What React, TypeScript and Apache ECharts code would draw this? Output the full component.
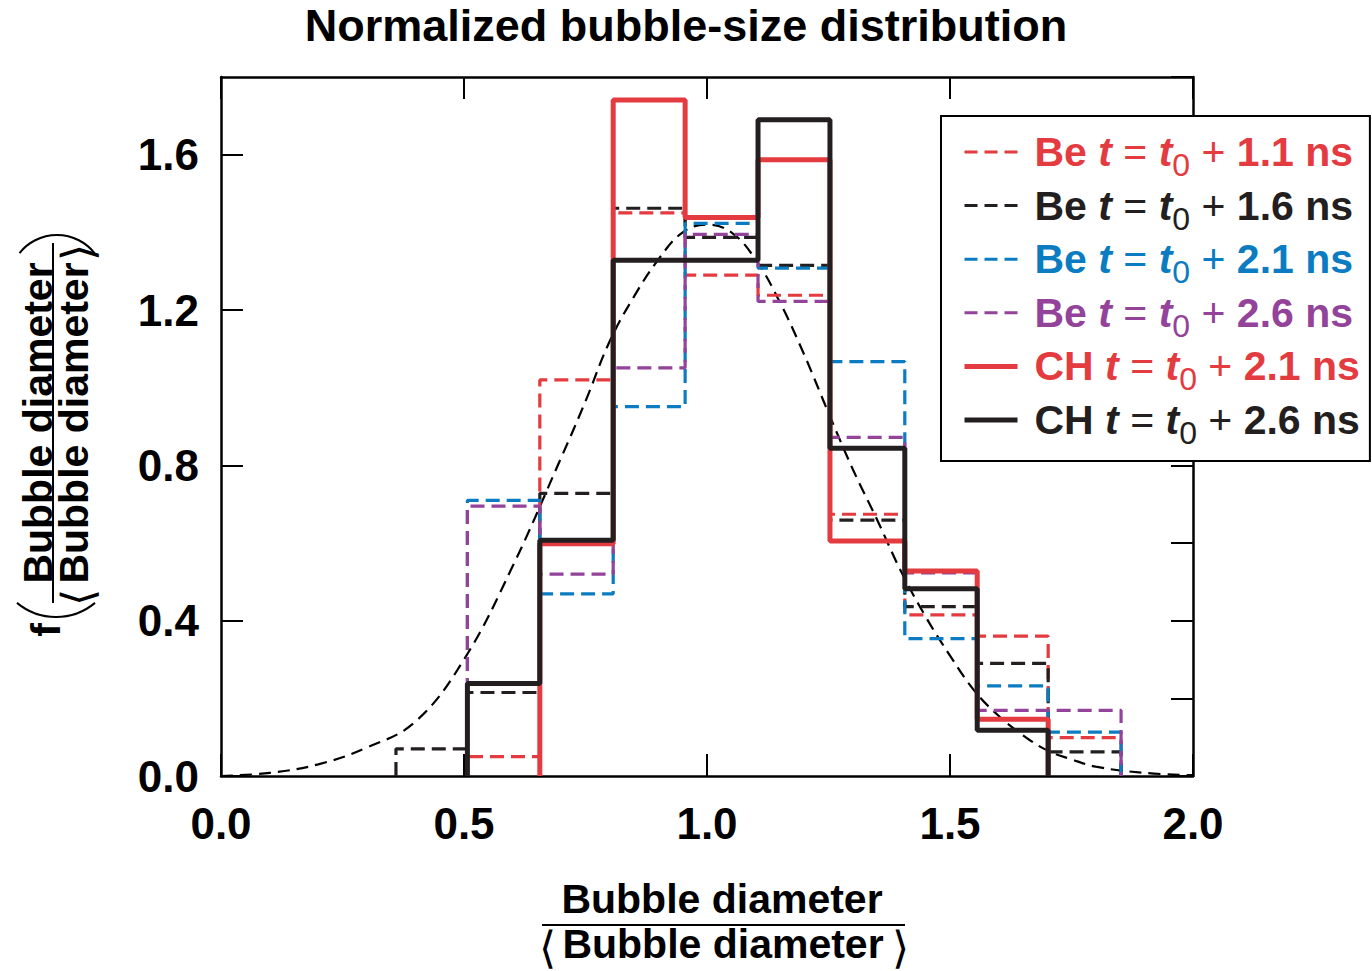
import React, { useEffect, useRef } from "react";
import * as echarts from "echarts";

// ---------- data ----------
const binEdges = [0.36, 0.507, 0.656, 0.807, 0.955, 1.105, 1.253, 1.407, 1.556, 1.702, 1.852];

const be11 = [0, 0.05, 1.02, 1.45, 1.29, 1.238, 0.674, 0.415, 0.36, 0.099];
const be16 = [0.07, 0.215, 0.728, 1.462, 1.387, 1.315, 0.659, 0.436, 0.29, 0.062];
const be21 = [0, 0.71, 0.469, 0.951, 1.423, 1.308, 1.067, 0.354, 0.232, 0.113];
const be26 = [0, 0.695, 0.52, 1.051, 1.395, 1.222, 0.872, 0.523, 0.169, 0.169];
const ch21 = [0, 0, 0.598, 1.741, 1.438, 1.587, 0.605, 0.528, 0.146, 0];
const ch26 = [0, 0.238, 0.607, 1.328, 1.328, 1.69, 0.844, 0.482, 0.118, 0];

const fitX = [0.0, 0.1, 0.2, 0.3, 0.4, 0.5, 0.6, 0.7, 0.75, 0.8, 0.85, 0.9, 0.95, 1.0, 1.05, 1.1, 1.15, 1.2, 1.25, 1.3, 1.35, 1.4, 1.45, 1.5, 1.55, 1.6, 1.65, 1.7, 1.75, 1.8, 1.9, 2.0];
const fitY = [0.0, 0.008, 0.03, 0.073, 0.14, 0.3, 0.54, 0.82, 0.965, 1.12, 1.235, 1.33, 1.4, 1.42, 1.4, 1.33, 1.22, 1.085, 0.935, 0.79, 0.66, 0.525, 0.41, 0.31, 0.22, 0.155, 0.105, 0.066, 0.043, 0.024, 0.008, 0.002];

const seriesNames = ["Be 1.1", "Be 1.6", "Be 2.1", "Be 2.6", "CH 2.1", "CH 2.6"];
const materials = ["Be", "Be", "Be", "Be", "CH", "CH"];
const times = ["1.1", "1.6", "2.1", "2.6", "2.1", "2.6"];
const seriesValues = [be11, be16, be21, be26, ch21, ch26];

const titleText = "Normalized bubble-size distribution";
const axisWord = "Bubble diameter";

// ---------- styles ----------
const RED = "#E33B40";
const BLACK = "#231F20";
const BLUE = "#0B7CC1";
const PURPLE = "#93439A";
const colors = [RED, BLACK, BLUE, PURPLE, RED, BLACK];
const dashed = [true, true, true, true, false, false];
const FONT = "'Liberation Sans', Arial, Helvetica, sans-serif";

function toSteps(values: number[]) {
  let s = 0;
  while (s < values.length && values[s] === 0) s++;
  let e = values.length - 1;
  while (e >= 0 && values[e] === 0) e--;
  const pts: number[][] = [[binEdges[s], 0]];
  for (let k = s; k <= e; k++) pts.push([binEdges[k], values[k]]);
  pts.push([binEdges[e + 1], 0]);
  return pts;
}

export default function App() {
  const ref = useRef<HTMLDivElement>(null);
  useEffect(() => {
    if (!ref.current) return;
    const chart = echarts.init(ref.current, undefined, { renderer: "svg" });

    const rich: Record<string, any> = {};
    colors.forEach((c, i) => {
      const base = { color: c, fontFamily: FONT, fontSize: 41, lineHeight: 50 };
      rich["f" + i] = { ...base, fontWeight: "bold", padding: [0, 0, 0, 12] };
      rich["b" + i] = { ...base, fontWeight: "bold" };
      rich["i" + i] = { ...base, fontWeight: "bold", fontStyle: "italic" };
      rich["r" + i] = { ...base, fontWeight: "normal" };
      rich["s" + i] = { color: c, fontFamily: FONT, fontSize: 32, fontWeight: "normal", lineHeight: 20, padding: [26, 0, 0, 0] };
    });

    const histSeries = seriesNames.map((name, i) => ({
      name,
      type: "line",
      step: "end",
      data: toSteps(seriesValues[i]),
      symbol: "none",
      showSymbol: false,
      z: dashed[i] ? 2 : 3,
      lineStyle: {
        color: colors[i],
        width: dashed[i] ? 3.2 : 5,
        type: dashed[i] ? [14, 7] : "solid",
        cap: "butt",
      },
      itemStyle: { color: colors[i] },
    }));

    const axisCommon = {
      type: "value",
      axisLine: { show: true, onZero: false, lineStyle: { color: "#000", width: 2.5 } },
      axisTick: { show: true, inside: true, length: 22, lineStyle: { color: "#000", width: 2 } },
      splitLine: { show: false },
    };

    chart.setOption({
      animation: false,
      backgroundColor: "#fff",
      title: {
        text: titleText,
        left: "center",
        top: -2,
        textStyle: { fontFamily: FONT, fontSize: 45, fontWeight: "bold", color: "#000" },
      },
      grid: { left: 221, right: 179, top: 77, bottom: 195, containLabel: false },
      xAxis: [
        {
          ...axisCommon,
          min: 0,
          max: 2,
          interval: 0.5,
          position: "bottom",
          axisLabel: {
            fontFamily: FONT,
            fontSize: 44,
            fontWeight: "bold",
            color: "#000",
            margin: 25,
            formatter: (v: number) => v.toFixed(1),
          },
        },
        {
          ...axisCommon,
          min: 0,
          max: 2,
          interval: 0.5,
          position: "top",
          axisLabel: { show: false },
        },
      ],
      yAxis: [
        {
          ...axisCommon,
          min: 0,
          max: 1.8,
          interval: 0.4,
          position: "left",
          axisLabel: {
            fontFamily: FONT,
            fontSize: 44,
            fontWeight: "bold",
            color: "#000",
            margin: 22,
            showMaxLabel: false,
            formatter: (v: number) => (Math.abs(v - 1.8) < 1e-6 ? "" : v.toFixed(1)),
          },
        },
        {
          ...axisCommon,
          min: 0,
          max: 1.8,
          interval: 0.2,
          position: "right",
          axisLabel: { show: false },
        },
      ],
      legend: {
        orient: "vertical",
        left: 941,
        top: 116,
        padding: [7, 10, 12, 21],
        itemGap: -4.4,
        itemWidth: 53,
        itemHeight: 20,
        backgroundColor: "#fff",
        borderColor: "#000",
        borderWidth: 2,
        borderRadius: 0,
        data: seriesNames.map((name, i) => ({
          name,
          itemStyle: { opacity: 0, color: "rgba(0,0,0,0)", borderWidth: 0 },
          lineStyle: { color: colors[i], width: dashed[i] ? 3 : 5, type: dashed[i] ? [13, 7] : "solid", opacity: 1 },
        })),
        textStyle: { fontFamily: FONT, fontSize: 41, lineHeight: 50, rich },
        formatter: (name: string) => {
          const i = seriesNames.indexOf(name);
          return `{f${i}|${materials[i]}} {i${i}|t} {r${i}|=} {i${i}|t}{s${i}|0} {r${i}|+} {b${i}|${times[i]} ns}`;
        },
      },
      series: [
        {
          name: "fit",
          type: "line",
          data: fitX.map((x, k) => [x, fitY[k]]),
          smooth: 0.4,
          symbol: "none",
          showSymbol: false,
          z: 1,
          lineStyle: { color: "#000", width: 2.2, type: [12, 7] },
        },
        ...histSeries,
      ],
      graphic: [
        // x-axis name: fraction
        {
          type: "text",
          x: 722,
          y: 899,
          style: { text: axisWord, font: `bold 41px ${FONT}`, fill: "#000", align: "center", verticalAlign: "middle" },
        },
        { type: "line", shape: { x1: 542, y1: 925, x2: 905, y2: 925 }, style: { stroke: "#000", lineWidth: 2 } },
        {
          type: "text",
          x: 723,
          y: 944,
          style: { text: axisWord, font: `bold 41px ${FONT}`, fill: "#000", align: "center", verticalAlign: "middle" },
        },
        {
          type: "text",
          x: 547,
          y: 947,
          style: { text: "⟨", font: `200 44px 'DejaVu Sans', sans-serif`, fill: "#000", align: "center", verticalAlign: "middle" },
        },
        {
          type: "text",
          x: 900,
          y: 947,
          style: { text: "⟩", font: `200 44px 'DejaVu Sans', sans-serif`, fill: "#000", align: "center", verticalAlign: "middle" },
        },
        // y-axis name: f( fraction )
        {
          type: "text",
          x: 46,
          y: 630,
          rotation: Math.PI / 2,
          style: { text: "f", font: `bold 41px ${FONT}`, fill: "#000", align: "center", verticalAlign: "middle" },
        },
        {
          type: "arc",
          shape: { cx: 56, cy: 556, r: 61, startAngle: Math.PI / 2 - 0.694, endAngle: Math.PI / 2 + 0.694, clockwise: true },
          style: { stroke: "#000", lineWidth: 2, fill: "none" },
        },
        {
          type: "arc",
          shape: { cx: 57, cy: 283, r: 48, startAngle: -Math.PI / 2 - 0.896, endAngle: -Math.PI / 2 + 0.896, clockwise: true },
          style: { stroke: "#000", lineWidth: 2, fill: "none" },
        },
        {
          type: "text",
          x: 38,
          y: 423,
          rotation: Math.PI / 2,
          style: { text: axisWord, font: `bold 41px ${FONT}`, fill: "#000", align: "center", verticalAlign: "middle" },
        },
        { type: "line", shape: { x1: 53, y1: 243, x2: 53, y2: 603 }, style: { stroke: "#000", lineWidth: 2 } },
        {
          type: "text",
          x: 74,
          y: 423,
          rotation: Math.PI / 2,
          style: { text: axisWord, font: `bold 41px ${FONT}`, fill: "#000", align: "center", verticalAlign: "middle" },
        },
        {
          type: "text",
          x: 77,
          y: 597,
          rotation: Math.PI / 2,
          style: { text: "⟨", font: `200 44px 'DejaVu Sans', sans-serif`, fill: "#000", align: "center", verticalAlign: "middle" },
        },
        {
          type: "text",
          x: 77,
          y: 252,
          rotation: Math.PI / 2,
          style: { text: "⟩", font: `200 44px 'DejaVu Sans', sans-serif`, fill: "#000", align: "center", verticalAlign: "middle" },
        },
      ],
    });

    return () => chart.dispose();
  }, []);

  return (
    <div
      ref={ref}
      style={{ position: "absolute", left: 0, top: 0, width: 1372, height: 971, background: "#fff" }}
    />
  );
}
